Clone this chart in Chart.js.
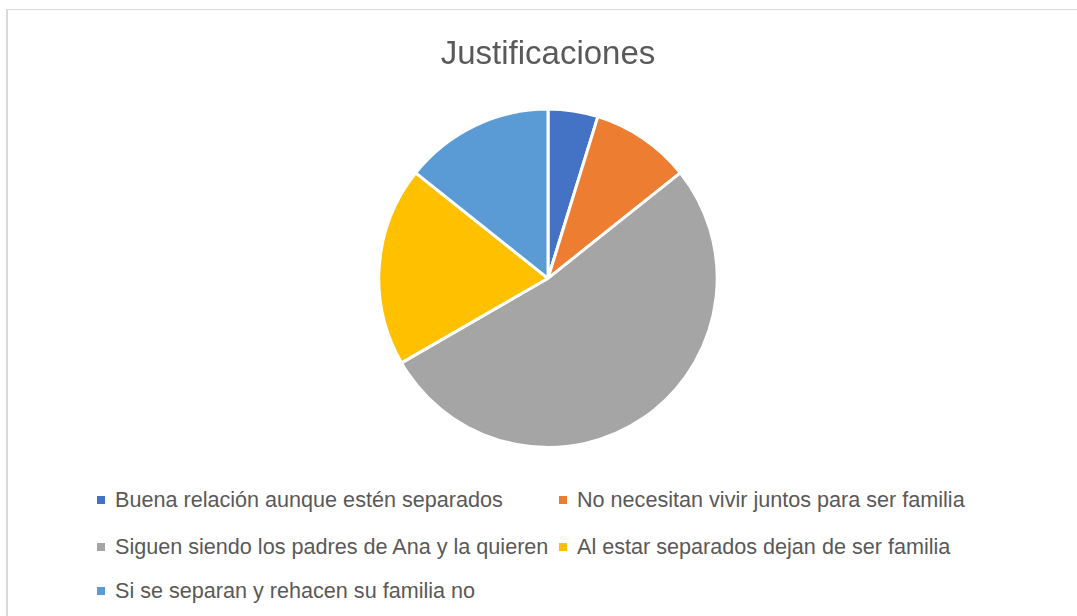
<!DOCTYPE html>
<html>
<head>
<meta charset="utf-8">
<script src="https://cdn.jsdelivr.net/npm/chart.js@4"></script>
<style>
    body { margin: 0; background: #fff; font-family: "Liberation Sans", Arial, sans-serif; }
    #frame { position: absolute; left: 6px; top: 9px; width: 1077px; height: 620px;
             border-left: 2px solid #d9d9d9; border-top: 1px solid #d9d9d9; }
    #pieBox { position: absolute; left: 377px; top: 25px; width: 342px; height: 424px; }
    .item { position: absolute; font-size: 21.6px; color: #595959; white-space: nowrap; line-height: 24px; }
    .item span.box { display: inline-block; width: 8px; height: 8px; margin-right: 10px; vertical-align: middle; position: relative; top: -1px; }
</style>
</head>
<body>
<div id="frame"></div>
<div id="pieBox"><canvas id="pieChart"></canvas></div>
<div id="legend"></div>
<script>
// Chart data
const labels = [
    'Buena relación aunque estén separados',
    'No necesitan vivir juntos para ser familia',
    'Siguen siendo los padres de Ana y la quieren',
    'Al estar separados dejan de ser familia',
    'Si se separan y rehacen su familia no'
];
const counts = [1, 2, 11, 4, 3];
const colors = ['#4472C4', '#ED7D31', '#A5A5A5', '#FFC000', '#5B9BD5'];

// Legend positions (two columns, like the original)
const legendSpots = [[97, 488], [559, 488], [97, 535], [559, 535], [97, 579]];

const legendEl = document.getElementById('legend');
labels.forEach((label, i) => {
    const div = document.createElement('div');
    div.className = 'item';
    div.style.left = legendSpots[i][0] + 'px';
    div.style.top = legendSpots[i][1] + 'px';
    div.innerHTML = '<span class="box" style="background:' + colors[i] + '"></span>' + label;
    legendEl.appendChild(div);
});

new Chart(document.getElementById('pieChart'), {
    type: 'pie',
    data: {
        labels: labels,
        datasets: [{
            data: counts,
            backgroundColor: colors,
            borderColor: '#ffffff',
            borderWidth: 3
        }]
    },
    options: {
        responsive: true,
        maintainAspectRatio: false,
        animation: false,
        layout: { padding: 0 },
        plugins: {
            legend: { display: false },
            tooltip: { enabled: false },
            title: {
                display: true,
                text: 'Justificaciones',
                color: '#595959',
                font: { family: 'Liberation Sans', size: 33, weight: 'normal' },
                padding: { top: 10, bottom: 33 }
            }
        }
    }
});
</script>
</body>
</html>
